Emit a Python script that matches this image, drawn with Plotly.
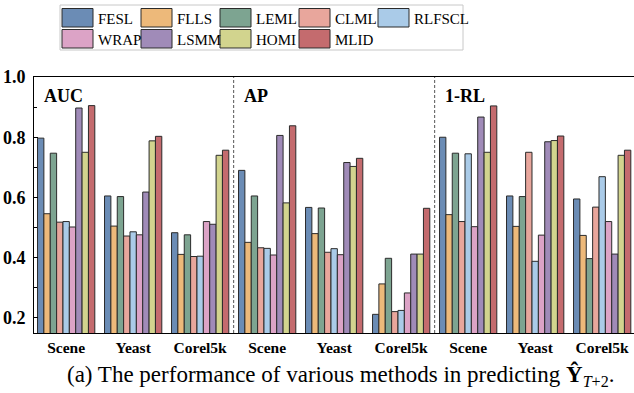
import plotly.graph_objects as go

methods = ["FESL", "FLLS", "LEML", "CLML", "RLFSCL", "WRAP", "LSMM", "HOMI", "MLID"]
colors = ["#6b8cb5", "#edb97a", "#7da491", "#e8a69c", "#aacbe8",
          "#dca3c6", "#a08bb8", "#d2d48e", "#c46b6e"]
datasets = ["Scene", "Yeast", "Corel5k"]
metrics = ["AUC", "AP", "1-RL"]
tick_labels = datasets * 3

# values per method over 9 groups: AUC(Scene,Yeast,Corel5k), AP(...), 1-RL(...)
FESL = [0.797, 0.605, 0.483, 0.690, 0.567, 0.212, 0.800, 0.605, 0.595]
FLLS = [0.546, 0.505, 0.411, 0.451, 0.480, 0.313, 0.543, 0.504, 0.474]
LEML = [0.747, 0.603, 0.476, 0.605, 0.565, 0.398, 0.747, 0.603, 0.397]
CLML = [0.518, 0.472, 0.404, 0.433, 0.418, 0.221, 0.520, 0.750, 0.568]
RLFSCL = [0.520, 0.486, 0.405, 0.431, 0.430, 0.225, 0.745, 0.388, 0.669]
WRAP = [0.502, 0.476, 0.520, 0.409, 0.410, 0.283, 0.503, 0.475, 0.520]
LSMM = [0.897, 0.618, 0.511, 0.806, 0.716, 0.412, 0.867, 0.785, 0.412]
HOMI = [0.750, 0.788, 0.740, 0.582, 0.703, 0.412, 0.750, 0.789, 0.740]
MLID = [0.905, 0.803, 0.757, 0.838, 0.730, 0.564, 0.904, 0.804, 0.757]
series = [FESL, FLLS, LEML, CLML, RLFSCL, WRAP, LSMM, HOMI, MLID]

groups = list(range(len(tick_labels)))

# layout geometry (pixels)
W, H = 634, 393
L, R, T, B = 34, 0, 77, 60
PW, PH = W - L - R, H - T - B

def px(x):
    return (x - L) / PW

def py(y):
    return (H - B - y) / PH

SERIF = "Liberation Serif"

fig = go.Figure()
for name, vals, col in zip(methods, series, colors):
    fig.add_trace(go.Bar(
        x=groups, y=vals, name=name,
        marker=dict(color=col, line=dict(color="#2b2b2b", width=1)),
        showlegend=False,
    ))

shapes = []
# dashed separators between metric panels
for k in range(1, len(metrics)):
    xb = k * len(datasets) - 0.5
    shapes.append(dict(type="line", xref="x", yref="paper", x0=xb, x1=xb, y0=0, y1=1,
                       line=dict(color="#555555", width=1, dash="3px,2px")))

annotations = []
panel_left = [-0.48] + [k * len(datasets) - 0.5 for k in range(1, len(metrics))]
for m, xl in zip(metrics, panel_left):
    annotations.append(dict(text="<b>" + m + "</b>", x=xl + 0.12, xref="x", xanchor="left",
                            y=py(96), yref="paper", yanchor="middle", showarrow=False,
                            font=dict(family=SERIF, size=18, color="black")))

# custom legend
lx0, lx1, ly0, ly1 = 60, 463, 5, 50
shapes.append(dict(type="rect", xref="paper", yref="paper",
                   x0=px(lx0), x1=px(lx1), y0=py(ly1), y1=py(ly0),
                   line=dict(color="#c8c8c8", width=1), fillcolor="white", layer="above"))
ncol = 5
for i, (name, col) in enumerate(zip(methods, colors)):
    r, c = divmod(i, ncol)
    sx = 62 + 79 * c
    sy = 8.5 + 21 * r
    shapes.append(dict(type="rect", xref="paper", yref="paper",
                       x0=px(sx), x1=px(sx + 31), y0=py(sy + 18.5), y1=py(sy),
                       line=dict(color="#2b2b2b", width=1), fillcolor=col, layer="above"))
    annotations.append(dict(text=name, x=px(sx + 34), xref="paper", xanchor="left",
                            y=py(sy + 10), yref="paper", yanchor="middle", showarrow=False,
                            font=dict(family=SERIF, size=15, color="black")))

# caption
annotations.append(dict(
    text="(a) The performance of various methods in predicting <b>Ŷ</b><sub><i>T</i>+2</sub>.",
    x=px(340), xref="paper", xanchor="center", y=py(375), yref="paper", yanchor="middle",
    showarrow=False, font=dict(family=SERIF, size=23, color="black")))

fig.update_layout(
    width=W, height=H,
    margin=dict(l=L, r=R, t=T, b=B, pad=0, autoexpand=False),
    paper_bgcolor="white", plot_bgcolor="white",
    barmode="group", bargap=0.145, bargroupgap=0,
    shapes=shapes, annotations=annotations,
    showlegend=False,
    font=dict(family=SERIF, color="black"),
)
fig.update_xaxes(
    range=[-0.48, 8.475], tickmode="array", tickvals=groups,
    ticktext=["<b>" + t + "</b>" for t in tick_labels],
    tickfont=dict(family=SERIF, size=15.5, color="black"),
    showline=True, linecolor="black", linewidth=1, mirror=True,
    showgrid=False, zeroline=False, ticks="", ticklabelstandoff=0,
)
fig.update_yaxes(
    range=[0.15, 1.0], tickmode="array", tickvals=[0.2, 0.4, 0.6, 0.8, 1.0],
    ticktext=["<b>0.2</b>", "<b>0.4</b>", "<b>0.6</b>", "<b>0.8</b>", "<b>1.0</b>"],
    tickfont=dict(family=SERIF, size=18, color="black"),
    showline=True, linecolor="black", linewidth=1, mirror=False,
    showgrid=False, zeroline=False, ticks="inside", ticklen=4, tickcolor="black",
    ticklabelstandoff=4,
    minor=dict(tickvals=[0.3, 0.5, 0.7, 0.9], ticks="inside", ticklen=3, tickcolor="black"),
)

fig.write_html("out.html", config={"displayModeBar": False},
               post_script="document.body.style.margin='0';")
